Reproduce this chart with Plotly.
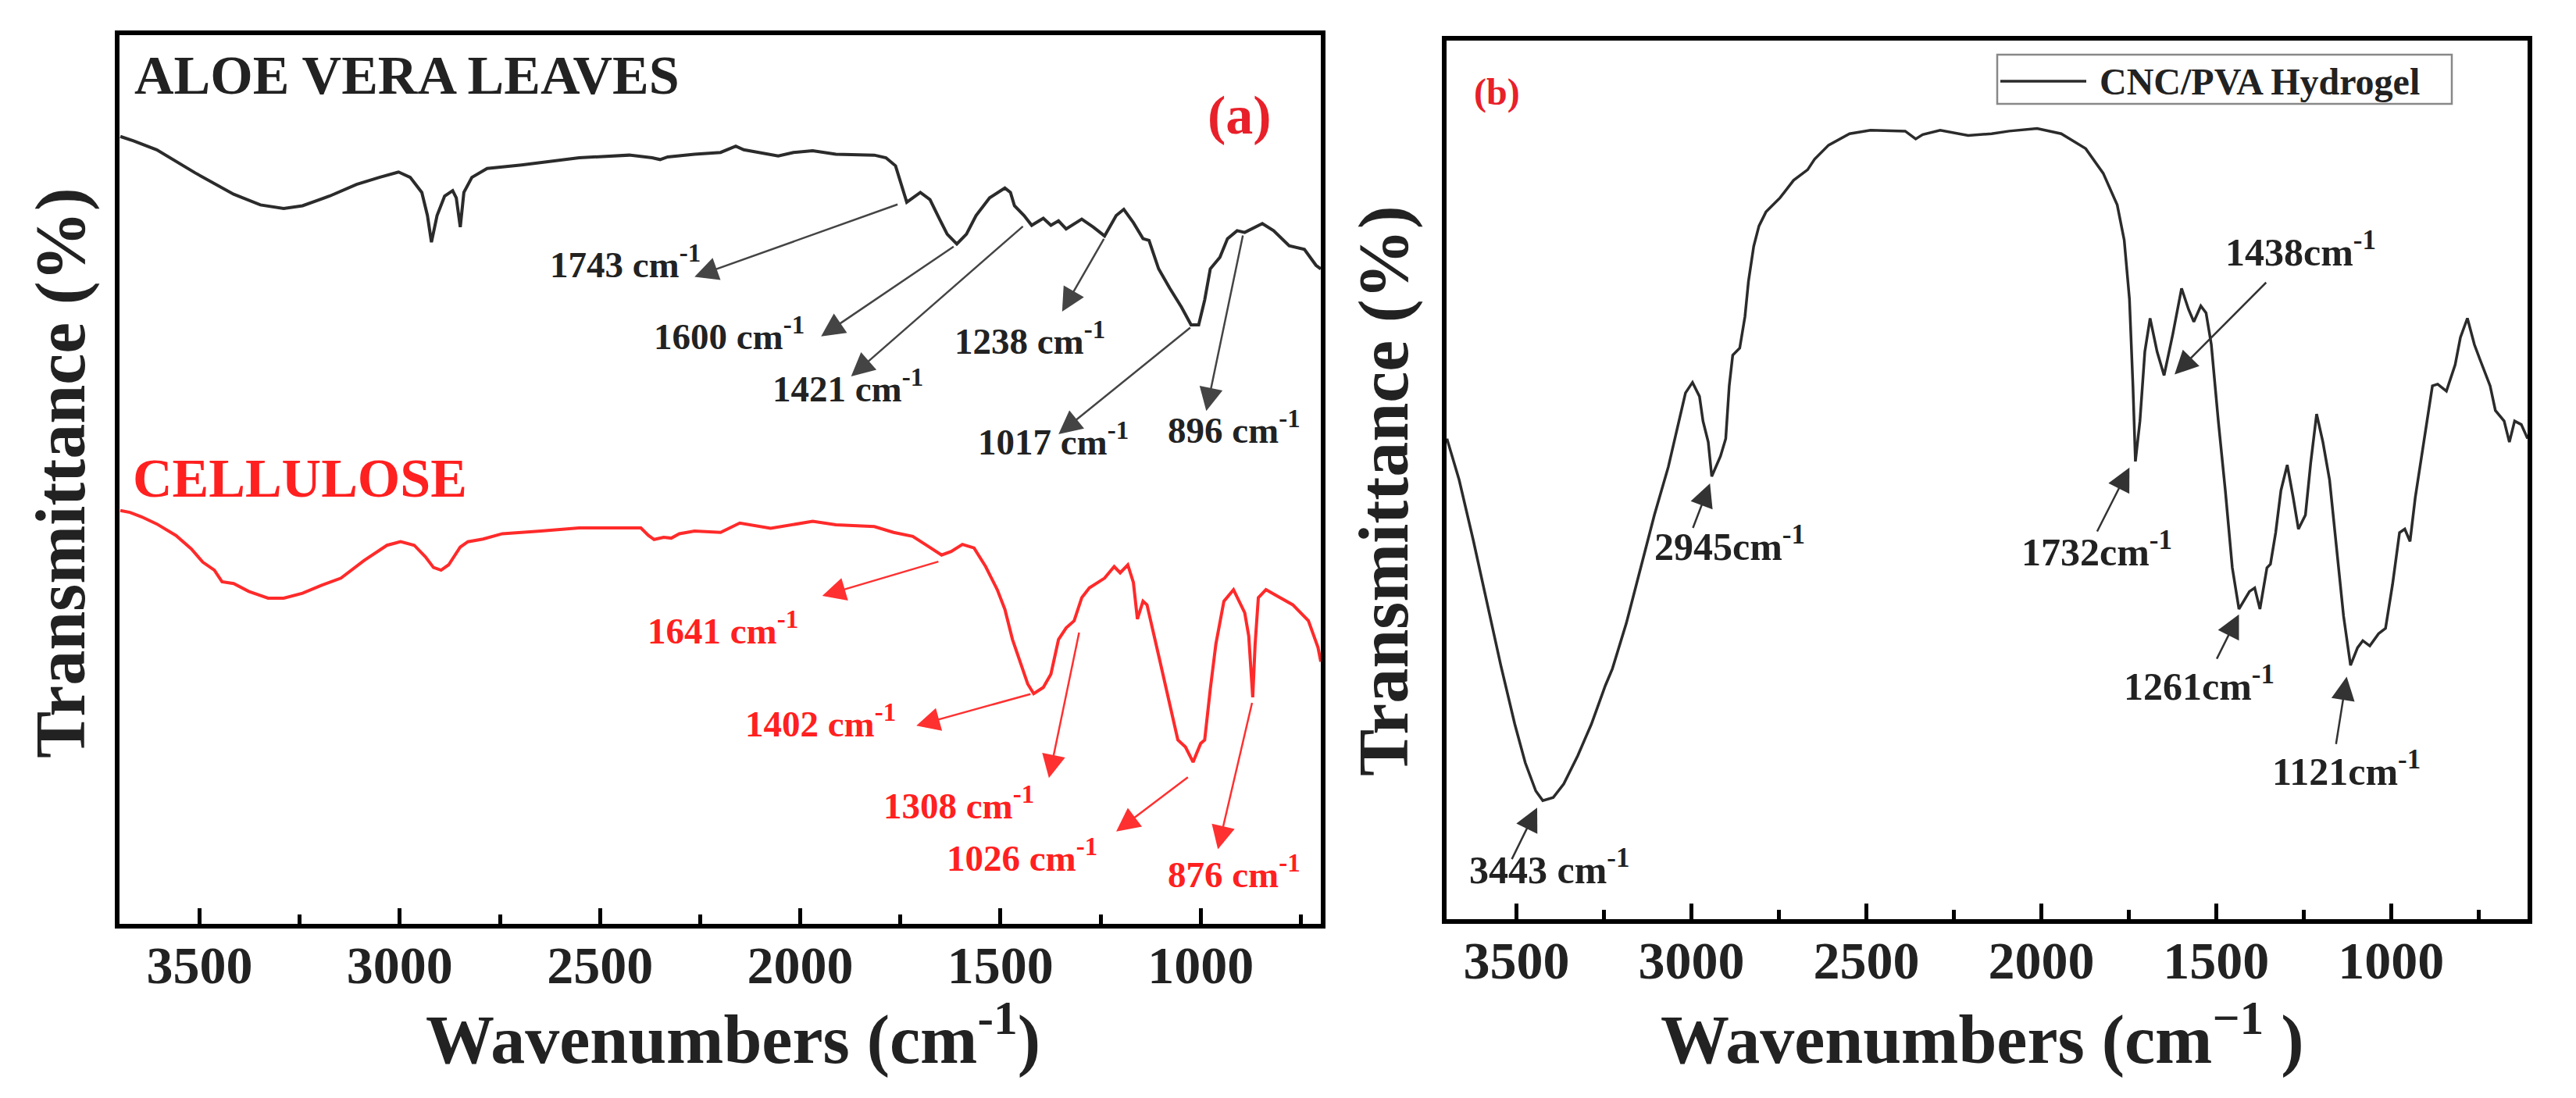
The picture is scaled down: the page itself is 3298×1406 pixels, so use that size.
import plotly.graph_objects as go

# ---- panel (a): aloe vera leaves / cellulose (arbitrary transmittance units) ----
aloe_wn = [3698, 3665, 3607, 3511, 3415, 3348, 3290, 3243, 3175, 3108, 3051, 3003, 2974, 2945,
           2931, 2921, 2907, 2888, 2868, 2859, 2849, 2840, 2820, 2782, 2696, 2600, 2552, 2427,
           2370, 2350, 2331, 2264, 2199, 2161, 2141, 2055, 2017, 1969, 1911, 1815, 1786, 1762,
           1748, 1734, 1700, 1676, 1652, 1633, 1609, 1585, 1561, 1527, 1489, 1475, 1465, 1441,
           1422, 1393, 1374, 1355, 1336, 1297, 1268, 1240, 1211, 1192, 1168, 1144, 1129, 1105,
           1077, 1048, 1024, 1005, 990, 976, 952, 933, 909, 890, 846, 818, 779, 741, 712, 700]
aloe_t = [88.6, 88.1, 87.1, 84.5, 82.1, 80.9, 80.5, 80.8, 81.9, 83.2, 84.0, 84.6, 84.0, 82.3,
          79.7, 76.7, 79.7, 81.9, 82.5, 81.7, 78.4, 82.3, 84.0, 85.0, 85.4, 85.9, 86.2, 86.5,
          86.2, 86.0, 86.3, 86.6, 86.8, 87.5, 87.1, 86.4, 86.8, 87.0, 86.6, 86.5, 86.2, 85.3,
          83.2, 81.2, 82.3, 81.5, 79.3, 77.6, 76.5, 77.6, 79.7, 81.7, 82.8, 82.3, 80.8, 79.7,
          78.6, 79.4, 78.6, 79.1, 78.2, 79.3, 78.4, 77.4, 79.7, 80.4, 78.9, 77.1, 76.9, 73.7,
          71.5, 69.4, 67.4, 67.4, 70.2, 73.7, 75.0, 77.1, 78.0, 77.8, 78.8, 78.0, 76.3, 75.9, 74.1, 73.7]

cell_wn = [3698, 3674, 3645, 3607, 3559, 3521, 3492, 3463, 3444, 3415, 3377, 3329, 3290, 3243,
           3195, 3147, 3089, 3032, 2998, 2964, 2936, 2916, 2897, 2878, 2849, 2830, 2792, 2744,
           2648, 2552, 2456, 2398, 2379, 2365, 2341, 2322, 2302, 2264, 2199, 2151, 2074, 1969,
           1911, 1815, 1767, 1719, 1681, 1647, 1623, 1595, 1566, 1537, 1508, 1489, 1470, 1451,
           1432, 1417, 1393, 1374, 1355, 1336, 1316, 1297, 1278, 1240, 1216, 1201, 1182, 1168,
           1158, 1144, 1134, 1105, 1077, 1057, 1038, 1019, 1000, 990, 976, 962, 942, 918, 904,
           890, 880, 870, 864, 856, 837, 808, 770, 731, 707, 700]
cell_t = [46.5, 46.3, 45.8, 45.0, 43.7, 42.2, 40.7, 39.8, 38.5, 38.3, 37.4, 36.65, 36.65, 37.2,
          38.1, 38.9, 40.9, 42.6, 43.0, 42.6, 41.3, 40.1, 39.8, 40.4, 42.4, 43.0, 43.3, 43.9,
          44.2, 44.55, 44.55, 44.55, 43.7, 43.25, 43.5, 43.4, 43.9, 44.2, 44.05, 45.1, 44.5, 45.3,
          44.9, 44.7, 44.05, 43.6, 42.5, 41.5, 41.9, 42.7, 42.3, 40.2, 37.6, 35.4, 32.0, 29.4,
          27.0, 25.9, 26.6, 28.1, 32.0, 33.3, 34.1, 36.7, 37.8, 38.9, 40.2, 39.5, 40.4, 38.4,
          34.3, 36.3, 35.9, 30.2, 24.6, 20.7, 19.9, 18.2, 20.3, 20.7, 26.4, 31.5, 36.3, 37.6, 36.3,
          35.0, 32.4, 25.5, 31.5, 36.7, 37.6, 36.9, 35.9, 34.1, 31.1, 29.5]

# ---- panel (b): CNC/PVA hydrogel ----
gel_wn = [3699, 3664, 3624, 3584, 3545, 3505, 3475, 3445, 3425, 3395, 3365, 3325, 3286, 3246,
          3226, 3186, 3146, 3106, 3066, 3017, 2997, 2977, 2967, 2952, 2942, 2917, 2902, 2892,
          2882, 2862, 2847, 2837, 2822, 2807, 2787, 2747, 2708, 2668, 2648, 2608, 2548, 2488,
          2389, 2359, 2339, 2289, 2209, 2142, 2092, 2012, 1943, 1873, 1823, 1783, 1763, 1748,
          1738, 1731, 1718, 1704, 1689, 1669, 1649, 1624, 1599, 1579, 1564, 1544, 1529, 1514,
          1494, 1474, 1454, 1435, 1405, 1390, 1375, 1355, 1345, 1330, 1315, 1297, 1280, 1265,
          1245, 1230, 1213, 1195, 1176, 1156, 1136, 1116, 1096, 1081, 1061, 1036, 1016, 996,
          976, 961, 946, 931, 906, 882, 867, 842, 817, 802, 782, 762, 747, 717, 702, 677,
          662, 647, 628, 610]
gel_t = [54.7, 50.0, 43.2, 36.1, 28.9, 22.2, 17.8, 14.6, 13.5, 13.85, 15.4, 18.6, 22.2, 26.6,
         28.5, 33.7, 40.0, 46.0, 51.5, 59.9, 61.1, 59.5, 56.7, 54.3, 50.4, 52.7, 54.7, 60.7,
         64.2, 65.0, 68.6, 72.6, 76.6, 78.9, 80.5, 82.1, 84.1, 85.3, 86.5, 88.1, 89.4, 89.8,
         89.7, 88.8, 89.3, 89.8, 89.2, 89.4, 89.7, 90.0, 89.4, 87.7, 84.9, 81.3, 77.3, 70.6,
         60.7, 52.1, 56.7, 64.6, 68.4, 64.6, 61.9, 66.6, 71.8, 69.4, 68.0, 69.8, 69.0, 65.4,
         56.7, 48.8, 40.0, 35.3, 37.3, 37.7, 35.3, 40.0, 40.4, 44.0, 48.8, 51.7, 48.0, 44.4,
         46.0, 51.9, 57.5, 54.3, 50.0, 42.0, 34.5, 28.9, 30.9, 31.7, 31.1, 32.5, 33.1, 38.1,
         44.0, 44.4, 43.0, 48.0, 54.3, 60.7, 60.9, 60.1, 63.1, 66.2, 68.4, 65.4, 63.8, 60.7, 57.9, 56.7,
         54.3, 56.7, 56.3, 54.7]

# ---- peak labels: text, text position (left edge, centre), arrow head, arrow tail ----
aloe_peaks = ['1743', '1600', '1421', '1238', '1017', '896']
aloe_text_xy = [(2629, 73.8), (2369, 65.7), (2074, 59.8), (1619, 65.2), (1561, 53.8), (1086, 55.1)]
aloe_head = [(2264, 72.8), (1948, 66.1), (1873, 61.6), (1346, 68.9), (1355, 55.1), (986, 57.7)]
aloe_tail = [(1754, 81.0), (1614, 76.3), (1441, 78.6), (1240, 77.2), (1023, 67.2), (894, 77.6)]

cell_peaks = ['1641', '1402', '1308', '1026', '876']
cell_text_xy = [(2385, 32.6), (2142, 22.1), (1797, 12.9), (1639, 7.0), (1086, 5.1)]
cell_head = [(1945, 36.9), (1710, 22.3), (1379, 16.4), (1211, 10.4), (957, 8.4)]
cell_tail = [(1652, 40.8), (1422, 25.9), (1303, 32.9), (1029, 16.6), (871, 25.0)]

gel_peaks = ['2945cm', '3443 cm', '1732cm', '1438cm', '1261cm', '1121cm']
gel_text_xy = [(3110, 42.0), (3640, 5.2), (2061, 41.4), (1479, 75.5), (1769, 26.1), (1345, 16.4)]
gel_head = [(2947, 49.6), (3441, 12.7), (1748, 51.4), (1619, 62.0), (1435, 34.7), (1127, 27.6)]
gel_tail = [(2997, 44.4), (3515, 6.7), (1842, 44.0), (1354, 72.6), (1500, 29.5), (1158, 19.8)]

FONT = 'Liberation Serif'
BLACK = '#222222'
RED = '#ff2020'
W, H = 3298, 1406


def f(size, color=BLACK):
	return dict(family=FONT, size=size, color=color, weight='bold')


fig = go.Figure()
fig.add_trace(go.Scatter(x=aloe_wn, y=aloe_t, mode='lines', line=dict(color='#2b2b2b', width=4),
                         xaxis='x', yaxis='y', showlegend=False))
fig.add_trace(go.Scatter(x=cell_wn, y=cell_t, mode='lines', line=dict(color='#ff2a2a', width=4),
                         xaxis='x', yaxis='y', showlegend=False))
fig.add_trace(go.Scatter(x=gel_wn, y=gel_t, mode='lines', line=dict(color='#2b2b2b', width=3.5),
                         xaxis='x2', yaxis='y2', name='CNC/PVA Hydrogel', showlegend=False))

annotations = []


def add_peaks(labels, text_xy, heads, tails, xr, yr, color, arrow_color, size, unit):
	for lab, (tx, ty), (hx, hy), (sx, sy) in zip(labels, text_xy, heads, tails):
		annotations.append(dict(
			x=hx, y=hy, ax=sx, ay=sy, xref=xr, yref=yr, axref=xr, ayref=yr,
			text='', showarrow=True, arrowhead=2, arrowsize=2.4, arrowwidth=2.5,
			arrowcolor=arrow_color, standoff=0, startstandoff=0,
		))
		annotations.append(dict(
			x=tx, y=ty, xref=xr, yref=yr, showarrow=False, xanchor='left', yanchor='middle',
			text=f'{lab}{unit}<sup>-1</sup>', font=f(size, color), yshift=8,
		))


add_peaks(aloe_peaks, aloe_text_xy, aloe_head, aloe_tail, 'x', 'y', BLACK, '#444444', 47, ' cm')
add_peaks(cell_peaks, cell_text_xy, cell_head, cell_tail, 'x', 'y', RED, '#ff3030', 47, ' cm')
add_peaks(gel_peaks, gel_text_xy, gel_head, gel_tail, 'x2', 'y2', BLACK, '#333333', 50, '')


def paper_text(px, py, text, font, angle=0):
	return dict(x=px / W, y=1 - py / H, xref='paper', yref='paper', text=text, showarrow=False,
	            xanchor='center', yanchor='middle', textangle=angle, font=font)


annotations += [
	dict(x=3666, y=95.5, xref='x', yref='y', text='ALOE VERA LEAVES', showarrow=False,
	     xanchor='left', yanchor='middle', font=f(70)),
	dict(x=3670, y=50.1, xref='x', yref='y', text='CELLULOSE', showarrow=False,
	     xanchor='left', yanchor='middle', font=f(70, RED)),
	dict(x=902, y=91.0, xref='x', yref='y', text='(a)', showarrow=False,
	     xanchor='center', yanchor='middle', font=f(70, '#e8202a')),
	dict(x=3557, y=94.1, xref='x2', yref='y2', text='(b)', showarrow=False,
	     xanchor='center', yanchor='middle', font=f(48, '#e8202a')),
	paper_text(70, 598, 'Transmittance (%)', f(90), -90),
	paper_text(1764, 621, 'Transmittance (%)', f(90), -90),
	paper_text(930, 1316, 'Wavenumbers (cm<sup>-1</sup>)', f(88)),
	paper_text(2530, 1316, 'Wavenumbers (cm<sup>\u22121</sup> )', f(88)),
	# legend text for panel (b)
	dict(x=2678 / W, y=1 - 96 / H, xref='paper', yref='paper', text='CNC/PVA Hydrogel',
	     showarrow=False, xanchor='left', yanchor='middle', font=f(48)),
]

shapes = [
	dict(type='rect', xref='paper', yref='paper', x0=2549 / W, x1=3131 / W, y0=1 - 125 / H, y1=1 - 62 / H,
	     line=dict(color='#888888', width=2.5), fillcolor='white'),
	dict(type='line', xref='paper', yref='paper', x0=2553 / W, x1=2663 / W, y0=1 - 96 / H, y1=1 - 96 / H,
	     line=dict(color='#2b2b2b', width=3.5)),
]

xaxis_common = dict(
	showline=True, linecolor='black', linewidth=6, mirror=True, showgrid=False, zeroline=False,
	ticks='inside', ticklen=20, tickwidth=5, tickcolor='black', dtick=500,
	tickfont=f(68), ticklabelstandoff=-12,
	minor=dict(ticks='inside', ticklen=12, tickwidth=5, tickcolor='black', dtick=250, showgrid=False),
)
yaxis_common = dict(
	showline=True, linecolor='black', linewidth=6, mirror=True, showgrid=False, zeroline=False,
	showticklabels=False, ticks='', range=[0, 100],
)

fig.update_layout(
	width=W, height=H,
	margin=dict(l=0, r=0, t=0, b=0),
	paper_bgcolor='white', plot_bgcolor='white',
	xaxis=dict(xaxis_common, domain=[145 / W, 1683 / W], range=[3700, 700], anchor='y'),
	yaxis=dict(yaxis_common, domain=[1 - 1175 / H, 1 - 37 / H], anchor='x'),
	xaxis2=dict(xaxis_common, domain=[1844 / W, 3228 / W], range=[3700, 610], anchor='y2'),
	yaxis2=dict(yaxis_common, domain=[1 - 1169 / H, 1 - 44 / H], anchor='x2'),
	annotations=annotations,
	shapes=shapes,
	showlegend=False,
)

fig.write_html('out.html')
